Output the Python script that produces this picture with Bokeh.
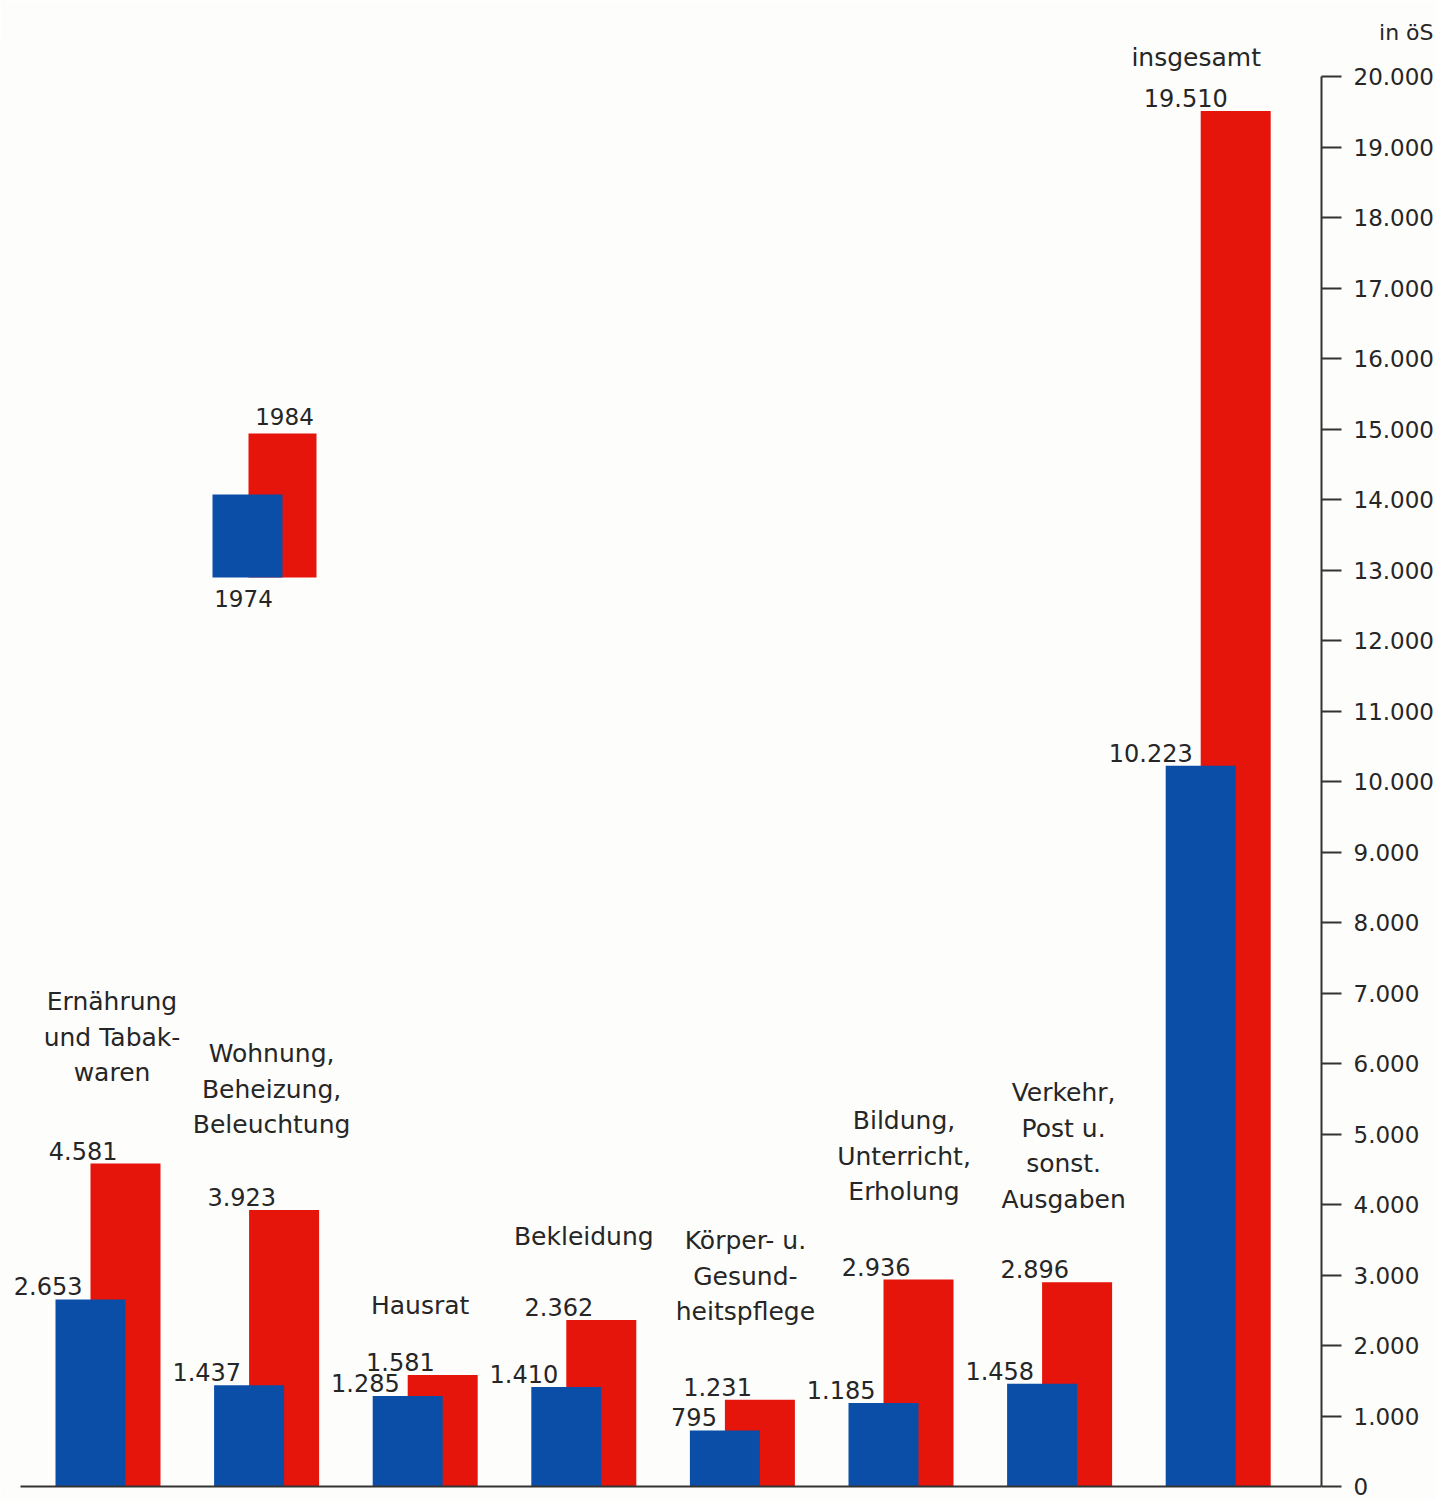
from bokeh.plotting import figure
from bokeh.models import Range1d, FixedTicker, ColumnDataSource
from bokeh.core.properties import value
from bokeh.embed import file_html
from bokeh.resources import INLINE

# ---------------- data ----------------
categories = [
    "Ernährung\nund Tabak-\nwaren",
    "Wohnung,\nBeheizung,\nBeleuchtung",
    "Hausrat",
    "Bekleidung",
    "Körper- u.\nGesund-\nheitspflege",
    "Bildung,\nUnterricht,\nErholung",
    "Verkehr,\nPost u.\nsonst.\nAusgaben",
    "insgesamt",
]
values_1974 = [2653, 1437, 1285, 1410, 795, 1185, 1458, 10223]
values_1984 = [4581, 3923, 1581, 2362, 1231, 2936, 2896, 19510]
series_names = ["1974", "1984"]
tick_values = [0, 1000, 2000, 3000, 4000, 5000, 6000, 7000, 8000, 9000, 10000,
               11000, 12000, 13000, 14000, 15000, 16000, 17000, 18000, 19000, 20000]
tick_labels = ["0", "1.000", "2.000", "3.000", "4.000", "5.000", "6.000", "7.000",
               "8.000", "9.000", "10.000", "11.000", "12.000", "13.000", "14.000",
               "15.000", "16.000", "17.000", "18.000", "19.000", "20.000"]
unit_label = "in öS"

# ---------------- layout / style ----------------
BLUE = "#0b4ea7"
RED = "#e5150c"
TEXT = "#262626"
BG = "#fdfdfb"
AXIS = "#333333"
FONT = "DejaVu Sans"

FRAME_TOP = 44
FRAME_BOTTOM = 1490
FRAME_RIGHT = 1321
PX_PER_X = 158.6      # pixels per category step
X0_PX = 107.5         # x-pixel of first group centre
Y0_PX = 1486.0        # y-pixel of value 0
Y20_PX = 76.0         # y-pixel of value 20000
PX_PER_K = (Y0_PX - Y20_PX) / 20.0


def xd(px):
    return (px - X0_PX) / PX_PER_X


def yd(py):
    return (Y0_PX - py) / PX_PER_K * 1000.0


def dyd(px):
    return px / PX_PER_K * 1000.0


def dxd(px):
    return px / PX_PER_X


TXT_FIX = dyd(7)                 # renderer baseline correction
BAR_W = dxd(70)
BAR_SHIFT = dxd(17.5)
LABEL_RIGHT = dxd(27)            # label right edge from bar left
VALUE_GAP = dyd(6)               # value baseline above bar top
LINE_STEP = dyd(35.5)            # category label line spacing
cat_gap_px = [78, 72, 57, 70, 75, 75, 70, 41]
cat_dx_px = [4, 5, -5, 0, 3, 3, 4, -22]

p = figure(
    frame_width=FRAME_RIGHT, frame_height=FRAME_BOTTOM - FRAME_TOP,
    x_range=Range1d(xd(0), xd(FRAME_RIGHT)),
    y_range=Range1d(yd(FRAME_BOTTOM), yd(FRAME_TOP)),
    y_axis_location="right", x_axis_location=None,
    output_backend="svg", toolbar_location=None,
    min_border_left=0, min_border_top=FRAME_TOP, min_border_bottom=10, min_border_right=0,
    background_fill_color=BG, border_fill_color=BG,
)
p.outline_line_color = None
p.grid.visible = False

n = len(categories)
xs = list(range(n))

# bars: 1984 behind, 1974 in front
p.vbar(x=[i + BAR_SHIFT for i in xs], top=values_1984, width=BAR_W, bottom=0,
       fill_color=RED, line_color=None)
p.vbar(x=[i - BAR_SHIFT for i in xs], top=values_1974, width=BAR_W, bottom=0,
       fill_color=BLUE, line_color=None)

# baseline
p.segment(x0=[xd(20)], y0=[0], x1=[xd(FRAME_RIGHT)], y1=[0], line_color=AXIS, line_width=2)


def fmt(v):
    return f"{v:,}".replace(",", ".")


# value labels
blue_src = ColumnDataSource(dict(
    x=[i - BAR_SHIFT - BAR_W / 2 + LABEL_RIGHT for i in xs],
    y=[v + VALUE_GAP + TXT_FIX for v in values_1974],
    t=[fmt(v) for v in values_1974]))
red_src = ColumnDataSource(dict(
    x=[i + BAR_SHIFT - BAR_W / 2 + LABEL_RIGHT for i in xs],
    y=[v + VALUE_GAP + TXT_FIX for v in values_1984],
    t=[fmt(v) for v in values_1984]))
for src in (blue_src, red_src):
    p.text(x="x", y="y", text="t", source=src, text_font=value(FONT),
           text_font_size="24px", text_align="right", text_baseline="alphabetic",
           text_color=TEXT)

# category labels (line by line, bottom line first)
cx, cy, ct = [], [], []
for i, (lab, top, gap, dx) in enumerate(zip(categories, values_1984, cat_gap_px, cat_dx_px)):
    lines = lab.split("\n")
    base = top + VALUE_GAP + dyd(gap) + TXT_FIX
    for k, line in enumerate(reversed(lines)):
        cx.append(i + dxd(dx))
        cy.append(base + k * LINE_STEP)
        ct.append(line)
p.text(x=cx, y=cy, text=ct, text_font=value(FONT), text_font_size="25px",
       text_align="center", text_baseline="alphabetic", text_color=TEXT)

# legend (drawn as in the original: overlapping squares)
p.quad(left=[xd(248)], right=[xd(316)], bottom=[yd(577)], top=[yd(433)],
       fill_color=RED, line_color=None)
p.quad(left=[xd(212)], right=[xd(282)], bottom=[yd(577)], top=[yd(494)],
       fill_color=BLUE, line_color=None)
p.text(x=[xd(284), xd(243)], y=[yd(423) + TXT_FIX, yd(605) + TXT_FIX],
       text=[series_names[1], series_names[0]],
       text_font=value(FONT), text_font_size="23px", text_align="center",
       text_baseline="alphabetic", text_color=TEXT)

# y axis on the right
ax = p.yaxis[0]
ax.ticker = FixedTicker(ticks=tick_values)
ax.major_label_overrides = {v: s for v, s in zip(tick_values, tick_labels)}
ax.bounds = (tick_values[0], tick_values[-1])
ax.axis_line_color = AXIS
ax.axis_line_width = 2
ax.major_tick_line_color = AXIS
ax.major_tick_line_width = 2
ax.major_tick_in = 0
ax.major_tick_out = 20
ax.minor_tick_in = 0
ax.minor_tick_out = 0
ax.major_label_standoff = 12
ax.major_label_text_font = FONT
ax.major_label_text_font_size = "23px"
ax.major_label_text_color = TEXT

# unit label as a right-aligned title above the axis
p.title.text = unit_label
p.title.align = "right"
p.title.offset = -(1433 - FRAME_RIGHT)
p.title.text_font = FONT
p.title.text_font_size = "22px"
p.title.text_font_style = "normal"
p.title.text_color = TEXT
p.title.standoff = 0

open("out.html", "w").write(file_html(p, INLINE))
